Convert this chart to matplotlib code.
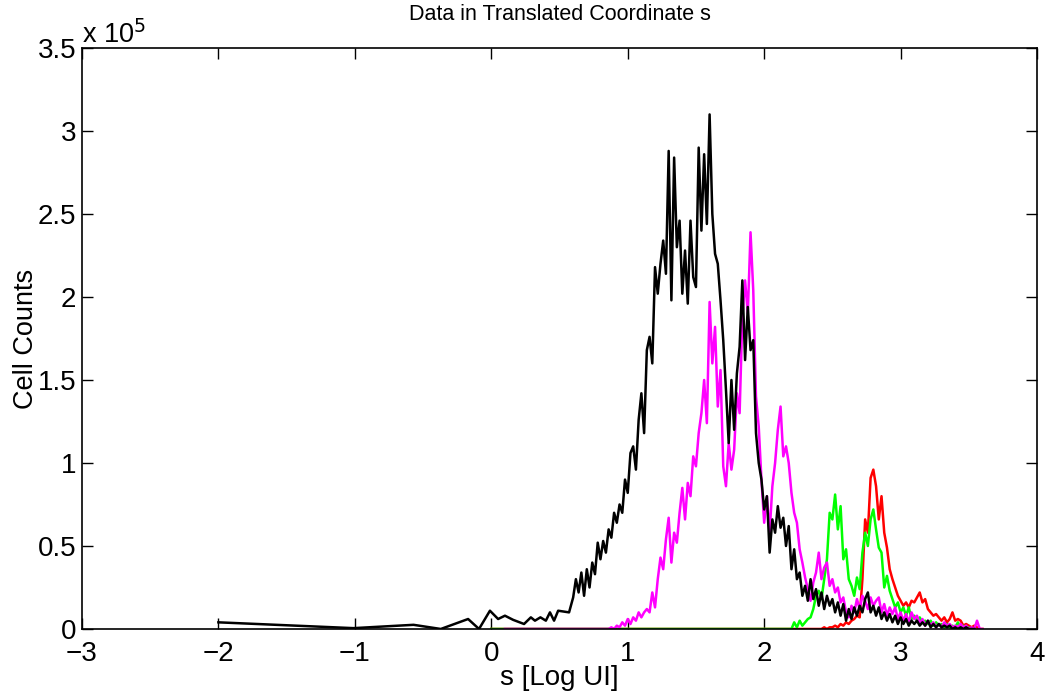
import numpy as np
import matplotlib.pyplot as plt

plt.rcParams['font.family'] = ['Liberation Sans', 'DejaVu Sans']

# cell counts in units of 1e5, binned on s with a 0.02 step
step = 0.02

# black: sparse low tail, then dense bins from 0.60
black_tail_x = [-2.0, -1.01, -0.57, -0.37, -0.17, -0.09, -0.01, 0.05, 0.10, 0.16,
                0.24, 0.29, 0.32, 0.36, 0.40, 0.43, 0.46, 0.49, 0.57]
black_tail_y = [0.04, 0.005, 0.025, 0.0, 0.06, 0.0, 0.11, 0.06, 0.08, 0.055,
                0.03, 0.07, 0.05, 0.07, 0.05, 0.10, 0.05, 0.11, 0.10]
black_start = 0.60
black_y = [0.19, 0.30, 0.22, 0.34, 0.20, 0.36, 0.25, 0.40, 0.33, 0.52,
           0.42, 0.53, 0.46, 0.60, 0.55, 0.70, 0.64, 0.75, 0.70, 0.90,
           0.82, 1.06, 1.10, 0.96, 1.26, 1.42, 1.18, 1.68, 1.76, 1.60,
           2.18, 2.02, 2.20, 2.34, 2.14, 2.88, 1.98, 2.84, 2.30, 2.46,
           2.02, 2.28, 1.96, 2.46, 2.12, 2.06, 2.90, 2.40, 2.86, 2.44,
           3.10, 2.50, 2.26, 2.20, 1.98, 1.74, 1.44, 1.12, 1.50, 1.20,
           1.54, 1.70, 2.10, 1.62, 1.94, 1.68, 1.74, 1.18, 1.00, 0.90,
           0.72, 0.80, 0.46, 0.66, 0.58, 0.74, 0.61, 0.67, 0.50, 0.62,
           0.36, 0.48, 0.30, 0.34, 0.20, 0.26, 0.17, 0.30, 0.18, 0.24,
           0.14, 0.22, 0.12, 0.20, 0.14, 0.18, 0.10, 0.16, 0.08, 0.15,
           0.05, 0.12, 0.06, 0.13, 0.08, 0.14, 0.10, 0.18, 0.22, 0.10,
           0.14, 0.08, 0.13, 0.06, 0.10, 0.05, 0.09, 0.04, 0.08, 0.03,
           0.07, 0.03, 0.06, 0.02, 0.05, 0.03, 0.05, 0.02, 0.04, 0.02,
           0.05, 0.01, 0.03, 0.01, 0.03, 0.01, 0.02, 0.01, 0.02, 0.00,
           0.01, 0.00, 0.01, 0.00, 0.01, 0.00, 0.00, 0.00]

# magenta: flat from 0.10, dense bins from 0.86
magenta_flat = 0.10
magenta_start = 0.86
magenta_y = [0.00, 0.01, 0.00, 0.02, 0.01, 0.04, 0.02, 0.06, 0.03, 0.07,
             0.05, 0.10, 0.07, 0.10, 0.12, 0.10, 0.22, 0.13, 0.30, 0.43,
             0.36, 0.54, 0.67, 0.40, 0.58, 0.52, 0.70, 0.85, 0.66, 0.88,
             0.80, 1.04, 0.98, 1.18, 1.30, 1.50, 1.24, 1.97, 1.60, 1.82,
             1.34, 1.56, 0.98, 0.86, 1.12, 0.96, 1.08, 1.42, 1.30, 1.88,
             2.10, 1.90, 2.39, 2.04, 1.40, 1.22, 0.90, 0.64, 0.80, 0.58,
             0.86, 1.00, 1.20, 1.34, 1.04, 1.10, 1.00, 0.82, 0.70, 0.64,
             0.48, 0.40, 0.31, 0.24, 0.17, 0.28, 0.34, 0.46, 0.30, 0.37,
             0.40, 0.26, 0.30, 0.22, 0.25, 0.16, 0.19, 0.10, 0.07, 0.14,
             0.10, 0.18, 0.12, 0.20, 0.17, 0.12, 0.19, 0.14, 0.17, 0.19,
             0.10, 0.15, 0.08, 0.13, 0.09, 0.13, 0.06, 0.10, 0.05, 0.09,
             0.04, 0.10, 0.06, 0.08, 0.03, 0.06, 0.02, 0.05, 0.02, 0.04,
             0.01, 0.03, 0.01, 0.04, 0.02, 0.03, 0.01, 0.02, 0.01, 0.03,
             0.01, 0.02, 0.00, 0.01, 0.00, 0.05, 0.00, 0.00]

# green: flat from 0.0, dense bins from 2.20
green_flat = 0.0
green_start = 2.20
green_y = [0.00, 0.04, 0.01, 0.05, 0.02, 0.04, 0.06, 0.07, 0.12, 0.20,
           0.23, 0.18, 0.30, 0.42, 0.70, 0.66, 0.81, 0.60, 0.74, 0.42,
           0.48, 0.30, 0.26, 0.20, 0.31, 0.24, 0.46, 0.58, 0.50, 0.66,
           0.72, 0.60, 0.49, 0.46, 0.25, 0.32, 0.23, 0.18, 0.13, 0.16,
           0.10, 0.13, 0.08, 0.13, 0.06, 0.08, 0.05, 0.07, 0.04, 0.05,
           0.03, 0.05, 0.02, 0.04, 0.02, 0.03, 0.01, 0.03, 0.01, 0.02,
           0.01, 0.04, 0.01, 0.02, 0.00, 0.01, 0.00, 0.00]

# red: flat from 0.0, dense bins from 2.40
red_flat = 0.0
red_start = 2.40
red_y = [0.00, 0.00, 0.01, 0.00, 0.01, 0.01, 0.02, 0.01, 0.03, 0.02,
         0.04, 0.03, 0.05, 0.06, 0.08, 0.07, 0.30, 0.66, 0.58, 0.91,
         0.96, 0.86, 0.66, 0.80, 0.58, 0.49, 0.36, 0.30, 0.25, 0.20,
         0.17, 0.14, 0.16, 0.13, 0.17, 0.16, 0.19, 0.22, 0.16, 0.18,
         0.12, 0.10, 0.08, 0.09, 0.07, 0.05, 0.07, 0.04, 0.06, 0.10,
         0.05, 0.06, 0.05, 0.02, 0.03, 0.02, 0.01, 0.02, 0.01, 0.00,
         0.00]


def series(flat, start, ys):
    xs = start + step * np.arange(len(ys))
    return np.concatenate([[flat], xs]), np.concatenate([[0.0], ys])


black_x = np.concatenate([black_tail_x, black_start + step * np.arange(len(black_y))])
black_all = np.concatenate([black_tail_y, black_y])
red_x, red_all = series(red_flat, red_start, red_y)
green_x, green_all = series(green_flat, green_start, green_y)
mag_x, mag_all = series(magenta_flat, magenta_start, magenta_y)

fig = plt.figure(figsize=(10.47, 6.94), dpi=100)
ax = fig.add_axes([0.0783, 0.0937, 0.9122, 0.8371])

lw = 1.8
ax.plot(red_x, red_all, color='#ff0000', lw=lw)
ax.plot(green_x, green_all, color='#00ff00', lw=lw)
ax.plot(mag_x, mag_all, color='#ff00ff', lw=lw)
ax.plot(black_x, black_all, color='black', lw=lw)

ax.set_xlim(-3, 4)
ax.set_ylim(0, 3.5)
ax.set_xticks(range(-3, 5))
ax.set_xticklabels(['\u22123', '\u22122', '\u22121', '0', '1', '2', '3', '4'])
ax.set_yticks([0, 0.5, 1, 1.5, 2, 2.5, 3, 3.5])
ax.set_yticklabels(['0', '0.5', '1', '1.5', '2', '2.5', '3', '3.5'])
ax.tick_params(direction='in', length=8, width=1, top=True, right=True,
               labelsize=20)
ax.tick_params(axis='x', pad=9)
ax.tick_params(axis='y', pad=4)
for sp in ax.spines.values():
    sp.set_linewidth(1.2)

ax.set_xlabel('s [Log UI]', fontsize=20, labelpad=-2)
ax.set_ylabel('Cell Counts', fontsize=19.5, labelpad=-1)
ax.text(0.0, 1.0 + 5 / 581, 'x 10$^5$', transform=ax.transAxes, fontsize=19.5,
        ha='left', va='baseline')
ax.text(0.5, 1.0 + 34 / 581, 'Data in Translated Coordinate s',
        transform=ax.transAxes, fontsize=15.5, ha='center', va='center')

fig.savefig('out.png')
